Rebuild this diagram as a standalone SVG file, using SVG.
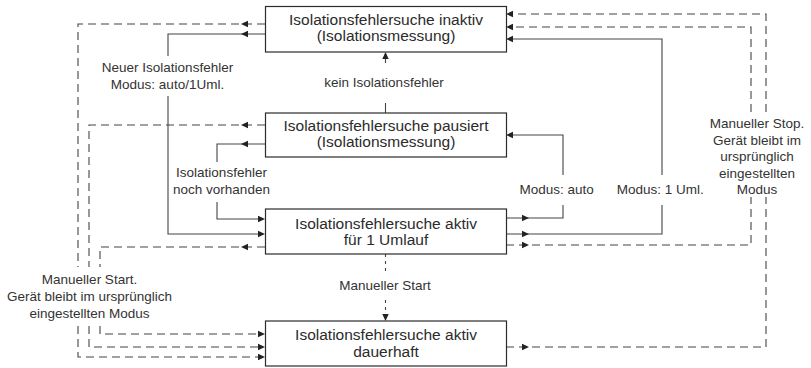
<svg xmlns="http://www.w3.org/2000/svg" xmlns:xlink="http://www.w3.org/1999/xlink" width="811" height="368" viewBox="0 0 811 368">
<style>
.box{fill:#fff;stroke:#2b2b2b;stroke-width:1.2}
.nt{font-family:"Liberation Sans",Arial,sans-serif;font-size:15.5px;fill:#2b2b2b;text-anchor:middle}
.lb{font-family:"Liberation Sans",Arial,sans-serif;font-size:13.5px;fill:#333;text-anchor:middle}
.s{fill:none;stroke:#444;stroke-width:1.1}
.d{fill:none;stroke:#444;stroke-width:1.1;stroke-dasharray:8,5}
.dd{fill:none;stroke:#444;stroke-width:1.1;stroke-dasharray:3,4}
.ah{fill:#222}
</style>
<defs>
<path id="al" d="M0,0 L7,-3.2 L7,3.2 Z"/>
<path id="ar" d="M0,0 L-7,-3.2 L-7,3.2 Z"/>
<path id="au" d="M0,0 L-3.2,7 L3.2,7 Z"/>
<path id="ad" d="M0,0 L-3.2,-7 L3.2,-7 Z"/>
</defs>
<g id="connectors">
<!-- left: inaktiv -> dauerhaft (A) -->
<path class="d" d="M265,24 H78 V267 M78,326 V357 H258"/>
<use href="#al" class="ah" x="241" y="24"/>
<use href="#ar" class="ah" x="265" y="357"/>
<!-- B: inaktiv -> aktiv 1 Umlauf -->
<path class="s" d="M265,34 H168 V56 M168,96 V234 H258"/>
<use href="#al" class="ah" x="241" y="34"/>
<use href="#ar" class="ah" x="265" y="234"/>
<!-- C: pausiert -> dauerhaft -->
<path class="d" d="M265,125 H89 V267 M89,326 V347 H258"/>
<use href="#al" class="ah" x="241" y="125"/>
<use href="#ar" class="ah" x="265" y="347"/>
<!-- D: pausiert -> aktiv 1 Umlauf -->
<path class="s" d="M265,144 H217 V162 M217,202 V219 H258"/>
<use href="#al" class="ah" x="241" y="144"/>
<use href="#ar" class="ah" x="265" y="219"/>
<!-- E: aktiv 1 Umlauf -> dauerhaft -->
<path class="d" d="M265,247 H100 V267 M100,326 V334 H258"/>
<use href="#al" class="ah" x="241" y="247"/>
<use href="#ar" class="ah" x="265" y="334"/>
<!-- kein Isolationsfehler -->
<path class="s" d="M385.5,113 V103 M385.5,63 V58"/>
<use href="#au" class="ah" x="385.5" y="52"/>
<!-- Manueller Start middle -->
<path class="dd" d="M385.5,254 V273 M385.5,300 V314"/>
<use href="#ad" class="ah" x="385.5" y="321"/>
<!-- Modus: auto -->
<path class="s" d="M506,218 H563 V205 M563,175 V135 H513"/>
<use href="#ar" class="ah" x="529" y="218"/>
<use href="#al" class="ah" x="506" y="135"/>
<!-- Modus: 1 Uml. -->
<path class="s" d="M506,234 H662 V205 M662,175 V39 H513"/>
<use href="#ar" class="ah" x="529" y="234"/>
<use href="#al" class="ah" x="506" y="39"/>
<!-- F: aktiv 1 Umlauf -> inaktiv -->
<path class="d" d="M506,245 H751 V197 M751,112 V27 H513"/>
<use href="#ar" class="ah" x="529" y="245"/>
<use href="#al" class="ah" x="506" y="27"/>
<!-- G: dauerhaft -> inaktiv -->
<path class="d" d="M506,347 H766 V197 M766,112 V14 H513"/>
<use href="#ar" class="ah" x="529" y="347"/>
<use href="#al" class="ah" x="506" y="14"/>
<!-- labels -->
<text class="lb" x="167.5" y="71.5">Neuer Isolationsfehler</text>
<text class="lb" x="167.5" y="89">Modus: auto/1Uml.</text>
<text class="lb" x="384" y="86.5">kein Isolationsfehler</text>
<text class="lb" x="221.5" y="177">Isolationsfehler</text>
<text class="lb" x="221.5" y="194">noch vorhanden</text>
<text class="lb" x="556.7" y="194">Modus: auto</text>
<text class="lb" x="660.3" y="194">Modus: 1 Uml.</text>
<text class="lb" x="757" y="128">Manueller Stop.</text>
<text class="lb" x="757" y="144.5">Gerät bleibt im</text>
<text class="lb" x="757" y="161">ursprünglich</text>
<text class="lb" x="757" y="177.5">eingestellten</text>
<text class="lb" x="757" y="194">Modus</text>
<text class="lb" x="89.5" y="284">Manueller Start.</text>
<text class="lb" x="89.5" y="301">Gerät bleibt im ursprünglich</text>
<text class="lb" x="89.5" y="318">eingestellten Modus</text>
<text class="lb" x="385" y="290">Manueller Start</text>
</g>
<g id="node-inaktiv">
<rect class="box" x="265.5" y="6.5" width="241" height="45.5"/>
<text class="nt" x="386" y="25">Isolationsfehlersuche inaktiv</text>
<text class="nt" x="386" y="41">(Isolationsmessung)</text>
</g>
<g id="node-pausiert">
<rect class="box" x="265.5" y="113" width="241" height="44"/>
<text class="nt" x="386" y="131">Isolationsfehlersuche pausiert</text>
<text class="nt" x="386" y="147">(Isolationsmessung)</text>
</g>
<g id="node-aktiv-1">
<rect class="box" x="265.5" y="209" width="241" height="45"/>
<text class="nt" x="386" y="228.5">Isolationsfehlersuche aktiv</text>
<text class="nt" x="386" y="245">für 1 Umlauf</text>
</g>
<g id="node-dauerhaft">
<rect class="box" x="265.5" y="321" width="241" height="45"/>
<text class="nt" x="386" y="340">Isolationsfehlersuche aktiv</text>
<text class="nt" x="386" y="357">dauerhaft</text>
</g>
</svg>
